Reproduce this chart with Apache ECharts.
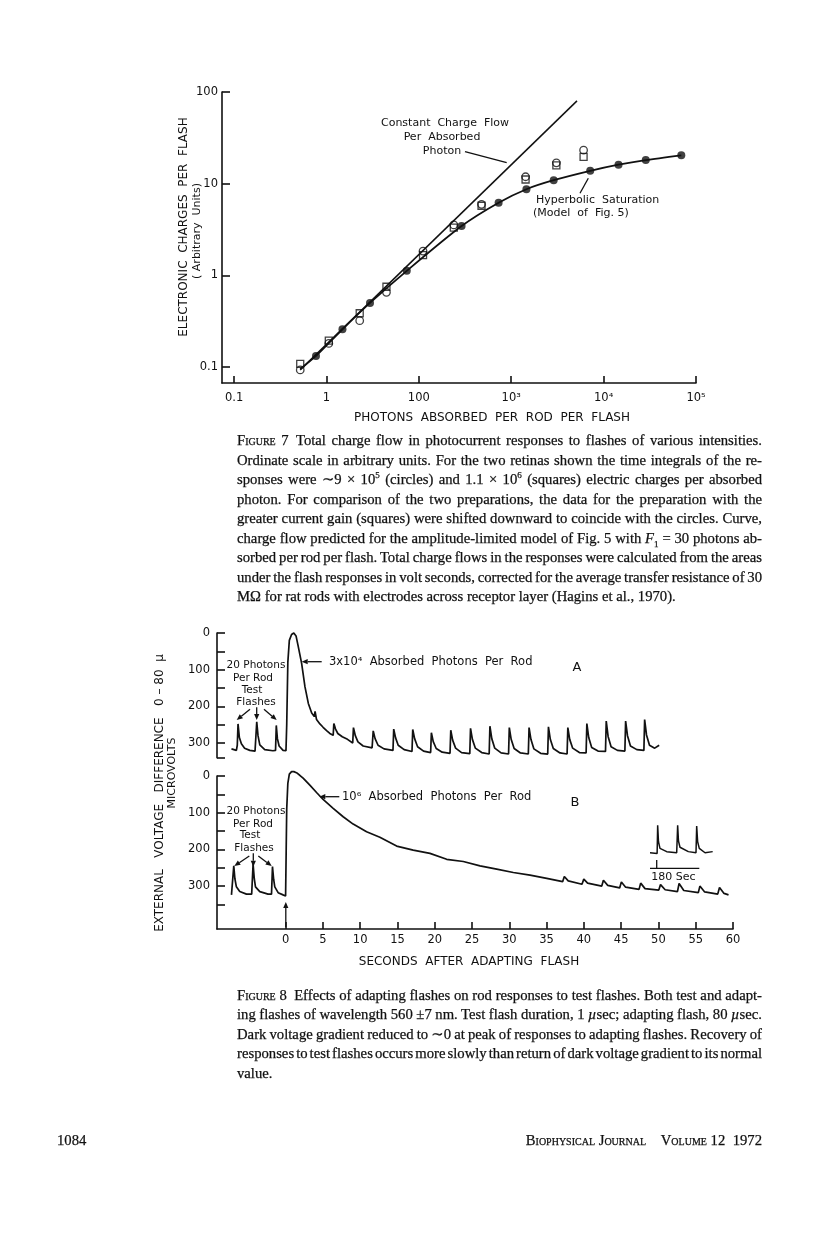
<!DOCTYPE html>
<html><head><meta charset="utf-8">
<script src="https://cdn.jsdelivr.net/npm/echarts@6/dist/echarts.min.js"></script>
<style>
html,body{margin:0;padding:0;background:#fff;}
#page{position:relative;width:816px;height:1247px;overflow:hidden;background:#fff;}
#chart{position:absolute;left:0;top:0;width:816px;height:1247px;}
.ln{position:absolute;left:237px;font-family:'Liberation Serif','DejaVu Serif',serif;font-size:14.7px;line-height:19.5px;color:#111;white-space:nowrap;-webkit-text-stroke:0.25px #111;}
.sc{font-variant:small-caps;}
sup,sub{font-size:9px;line-height:0;}
.foot{position:absolute;font-family:'Liberation Serif','DejaVu Serif',serif;font-size:14.7px;color:#111;white-space:nowrap;-webkit-text-stroke:0.25px #111;}
</style></head><body><div id="page"><div id="chart"></div>

<div class="ln j" style="top:431px"><span class="sc">Figure 7</span>&ensp;Total charge flow in photocurrent responses to flashes of various intensities.</div>
<div class="ln j" style="top:450.5px">Ordinate scale in arbitrary units. For the two retinas shown the time integrals of the re-</div>
<div class="ln j" style="top:470px">sponses were ∼9 × 10<sup>5</sup> (circles) and 1.1 × 10<sup>6</sup> (squares) electric charges per absorbed</div>
<div class="ln j" style="top:489.5px">photon. For comparison of the two preparations, the data for the preparation with the</div>
<div class="ln j" style="top:509px">greater current gain (squares) were shifted downward to coincide with the circles. Curve,</div>
<div class="ln j" style="top:528.5px">charge flow predicted for the amplitude-limited model of Fig. 5 with <i>F</i><sub>1</sub> = 30 photons ab-</div>
<div class="ln j" style="top:548px">sorbed per rod per flash. Total charge flows in the responses were calculated from the areas</div>
<div class="ln j" style="top:567.5px">under the flash responses in volt seconds, corrected for the average transfer resistance of 30</div>
<div class="ln" style="top:587px">MΩ for rat rods with electrodes across receptor layer (Hagins et al., 1970).</div>

<div class="ln j" style="top:985.5px"><span class="sc">Figure 8</span>&ensp;Effects of adapting flashes on rod responses to test flashes. Both test and adapt-</div>
<div class="ln j" style="top:1005px">ing flashes of wavelength 560 ±7 nm. Test flash duration, 1 <i>µ</i>sec; adapting flash, 80 <i>µ</i>sec.</div>
<div class="ln j" style="top:1024.5px">Dark voltage gradient reduced to ∼0 at peak of responses to adapting flashes. Recovery of</div>
<div class="ln j" style="top:1044px">responses to test flashes occurs more slowly than return of dark voltage gradient to its normal</div>
<div class="ln" style="top:1063.5px">value.</div>

<div class="foot" style="left:57px;top:1132px">1084</div>
<div class="foot" style="right:54px;top:1132px"><span class="sc">Biophysical Journal</span>&emsp;<span class="sc">Volume</span> 12&ensp;1972</div>
</div>
<script>
// ---------------- Figure 7 data ----------------
const fig7XTickValues = [0.1, 1, 10, 100, 1000, 10000];
const fig7XTickLabels = ['0.1', '1', '100', '10³', '10⁴', '10⁵'];
const fig7YTickValues = [0.1, 1, 10, 100];
const fig7YTickLabels = ['0.1', '1', '10', '100'];
const fig7Filled = [[0.77,0.132],[1.49,0.258],[2.96,0.50],[7.4,1.12],[29,3.45],[73,6.2],[146,8.7],[288,10.9],[716,13.8],[1450,16.1],[2860,18.1],[6930,20.4]];
const fig7Squares = [[0.52,0.108],[1.06,0.194],[2.29,0.386],[4.46,0.751],[11.1,1.66],[23.9,3.32],[47.7,5.74],[143,11.1],[308,15.8],[607,19.6]];
const fig7Circles = [[0.52,0.093],[1.06,0.181],[2.29,0.32],[4.46,0.653],[11.1,1.84],[23.9,3.55],[47.7,5.95],[143,11.9],[308,16.9],[607,23.2]];
const fig7CurveStart = [[0.52,0.095]];
const fig7ConstantLine = [[0.52,0.093],[515,80]];

// ---------------- Figure 8 data ----------------
const fig8XTicks = [0,5,10,15,20,25,30,35,40,45,50,55,60];
const fig8AYTicks = [0,50,100,150,200,250,300,340];
const fig8BYTicks = [0,50,100,150,200,250,300,350];
const fig8YLabels = [0,100,200,300];
const traceA = [
[-7.26,316],[-6.6,320],[-6.48,306],[-6.38,248],[-6.2,285],[-5.93,302],[-5.5,314],[-4.8,320],[-4.1,322],[-3.95,318],[-3.87,242],[-3.7,280],[-3.46,305],[-2.8,318],[-1.7,321],[-1.35,320],[-1.25,252],[-1.1,288],[-0.87,308],[-0.34,320],[0.05,321],
[0.15,250],[0.3,80],[0.5,20],[0.8,4],[1.1,0],[1.4,8],[1.7,37],[2.15,83],[2.6,147],[3.05,192],[3.5,218],[3.85,228],[3.95,214],[4.15,236],[4.6,248],[5.03,257],[5.5,266],[5.93,274],[6.38,279],[6.47,247],[6.7,262],[7.0,274],[7.6,283],[8.3,290],[9.0,300],[9.1,258],[9.35,280],[9.7,297],[10.4,308],[11.6,313],[11.75,267],[12.0,288],[12.4,306],[13.2,316],[14.4,320],[14.5,262],[14.75,286],[15.1,306],[15.9,318],[16.95,323],[17.05,263],[17.3,288],[17.7,310],[18.5,322],[19.45,326],[19.55,272],[19.8,296],[20.2,315],[21.0,325],[22.05,328],[22.15,265],[22.4,292],[22.8,314],[23.6,326],[24.7,329],[24.8,260],[25.05,290],[25.45,314],[26.3,326],[27.3,330],[27.4,254],[27.65,288],[28.05,314],[28.9,327],[29.9,330],[30.0,258],[30.25,290],[30.65,315],[31.5,327],[32.55,330],[32.65,258],[32.9,290],[33.3,316],[34.2,328],[35.15,330],[35.25,256],[35.5,290],[35.9,315],[36.8,327],[37.75,330],[37.85,258],[38.1,290],[38.5,314],[39.4,326],[40.3,327],[40.4,247],[40.65,285],[41.05,312],[41.9,322],[42.9,323],[43.0,240],[43.25,282],[43.65,310],[44.5,320],[45.5,322],[45.6,240],[45.85,280],[46.25,308],[47.1,318],[48.05,320],[48.15,236],[48.4,278],[48.8,306],[49.5,314],[50.1,306]
];
const traceB = [
[-7.26,324],[-7.05,320],[-6.95,245],[-6.8,280],[-6.6,302],[-6.15,315],[-5.25,322],[-4.55,322],[-4.45,318],[-4.36,240],[-4.2,280],[-4.04,302],[-3.46,315],[-2.35,322],[-1.89,322],[-1.82,318],[-1.76,247],[-1.6,282],[-1.45,302],[-1.0,318],[-0.34,324],[0.0,327],
[0.08,200],[0.15,90],[0.3,20],[0.5,-5],[0.8,-12],[1.1,-12],[1.46,-9],[1.9,-2],[2.35,6],[3.25,25],[4.15,45],[5.03,64],[6.38,88],[7.72,111],[9.06,131],[10.86,152],[12.64,167],[14.89,191],[17.11,202],[19.36,211],[21.6,227],[23.83,233],[26.07,245],[28.31,254],[30.54,263],[32.78,270],[35.02,279],
[37.15,288],[37.38,274],[37.9,286],[39.75,295],[39.99,281],[40.5,292],[42.4,300],[42.62,284],[43.2,298],[44.8,305],[45.03,289],[45.6,303],[47.4,309],[47.62,292],[48.2,307],[50.05,311],[50.28,296],[50.9,310],[52.55,315],[52.77,293],[53.4,312],[55.35,318],[55.56,300],[56.2,316],[57.95,322],[58.19,304],[58.8,320],[59.4,324]
];
const insetTrace = [[0,320],[26,322],[28,245],[31,290],[36.5,308],[61,317],[97.5,320],[99.5,318],[101,245],[104,288],[109.5,305],[140,317],[168,320],[169.5,318],[170.5,247],[174,290],[180,308],[201,320],[229,317]];

// ---------------- drawing ----------------
const INK = '#111';
const FONT = 'DejaVu Sans';
const chart = echarts.init(document.getElementById('chart'), null, {renderer: 'canvas', width: 816, height: 1247});

function lbl(size){ return {color: INK, fontFamily: FONT, fontSize: size}; }
function T(x, y, s, o) {
  o = o || {};
  const al = o.align || 'center';
  return {type: 'text', x: x, y: y, rotation: o.rot || 0, z: 10,
    style: {text: s, fill: INK, font: (o.size || 11) + 'px "' + FONT + '"',
      align: al, verticalAlign: 'middle', textAlign: al, textVerticalAlign: 'middle'}};
}
function L(x1, y1, x2, y2, w) {
  return {type: 'line', z: 10, shape: {x1: x1, y1: y1, x2: x2, y2: y2}, style: {stroke: INK, lineWidth: w || 1.3}};
}
function A(x1, y1, x2, y2) {
  const ang = Math.atan2(y2 - y1, x2 - x1), len = 6, half = 2.6;
  const bx = x2 - len * Math.cos(ang), by = y2 - len * Math.sin(ang);
  const px = -Math.sin(ang) * half, py = Math.cos(ang) * half;
  return [L(x1, y1, bx, by, 1.3), {type: 'polygon', z: 10, shape: {points: [[x2, y2], [bx + px, by + py], [bx - px, by - py]]}, style: {fill: INK}}];
}
function logIdx(v){ return Math.round(Math.log10(v) + 1); }

const graphics = [].concat(
  // Figure 7 titles
  [T(184, 227, 'ELECTRONIC  CHARGES  PER  FLASH', {rot: Math.PI / 2, size: 12}),
   T(197.5, 231, '( Arbitrary  Units)', {rot: Math.PI / 2, size: 11}),
   T(492, 418, 'PHOTONS  ABSORBED  PER  ROD  PER  FLASH', {size: 12}),
   T(445, 123, 'Constant  Charge  Flow', {size: 11}),
   T(442, 137.5, 'Per  Absorbed', {size: 11}),
   T(442, 151, 'Photon', {size: 11}),
   T(536, 200, 'Hyperbolic  Saturation', {size: 11, align: 'left'}),
   T(533, 213, '(Model  of  Fig. 5)', {size: 11, align: 'left'}),
   L(465, 151.7, 506.7, 162.7), L(588.3, 178.3, 580, 193.3)],
  // Figure 8 titles
  [T(160, 793, 'EXTERNAL   VOLTAGE   DIFFERENCE   0 – 80  µ', {rot: Math.PI / 2, size: 12}),
   T(172.5, 773, 'MICROVOLTS', {rot: Math.PI / 2, size: 11}),
   T(469, 962, 'SECONDS  AFTER  ADAPTING  FLASH', {size: 12}),
   T(329, 662.5, '3x10⁴  Absorbed  Photons  Per  Rod', {size: 11.5, align: 'left'}),
   T(342, 797, '10⁶  Absorbed  Photons  Per  Rod', {size: 11.5, align: 'left'}),
   T(577, 668, 'A', {size: 13}), T(575, 803, 'B', {size: 13}),
   T(256, 665, '20 Photons', {size: 10.5}), T(253, 678.5, 'Per Rod', {size: 10.5}),
   T(252, 690.5, 'Test', {size: 10.5}), T(256, 702, 'Flashes', {size: 10.5}),
   T(256, 811.5, '20 Photons', {size: 10.5}), T(253, 824, 'Per Rod', {size: 10.5}),
   T(250, 835.5, 'Test', {size: 10.5}), T(254, 848, 'Flashes', {size: 10.5}),
   T(673.5, 877, '180 Sec', {size: 11}),
   L(650, 868.3, 699.3, 868.3), L(656.7, 860, 656.7, 868.3)],
  A(321.7, 661.7, 301.7, 661.7), A(339.3, 796.7, 319.3, 796.7),
  A(250, 709.3, 236.7, 720), A(256.7, 707.3, 256.7, 720), A(264, 709.3, 276.7, 720),
  A(249.3, 856, 234.3, 866), A(253.3, 853.3, 253.3, 866.7), A(258.3, 856, 271.7, 866),
  A(285.8, 927, 285.8, 902)
);

const AX = {color: INK, width: 1.6};
const option = {
  animation: false,
  backgroundColor: '#fff',
  grid: [
    {left: 222, top: 92, width: 474, height: 291},
    {left: 217, top: 633, width: 516, height: 124.7},
    {left: 217, top: 776, width: 516, height: 153},
    {left: 650, top: 808.7, width: 62.7, height: 47.7}
  ],
  xAxis: [
    {type: 'log', logBase: 10, gridIndex: 0, min: 0.074, max: 10000,
     axisLine: {show: true, lineStyle: AX},
     axisTick: {show: true, inside: true, length: 7, customValues: fig7XTickValues, lineStyle: AX},
     axisLabel: Object.assign(lbl(11.5), {margin: 9, customValues: fig7XTickValues, formatter: v => fig7XTickLabels[logIdx(v)]}),
     splitLine: {show: false}, minorTick: {show: false}},
    {type: 'value', gridIndex: 1, min: -9.2, max: 60, show: false},
    {type: 'value', gridIndex: 2, min: -9.2, max: 60,
     axisLine: {show: true, onZero: false, lineStyle: AX},
     axisTick: {show: true, inside: true, length: 7, customValues: fig8XTicks, lineStyle: AX},
     axisLabel: Object.assign(lbl(11.5), {margin: 5, customValues: fig8XTicks}),
     splitLine: {show: false}},
    {type: 'value', gridIndex: 3, min: 0, max: 229, show: false}
  ],
  yAxis: [
    {type: 'log', logBase: 10, gridIndex: 0, min: 0.0669, max: 100,
     axisLine: {show: true, lineStyle: AX},
     axisTick: {show: true, inside: true, length: 8, customValues: fig7YTickValues, lineStyle: AX},
     axisLabel: Object.assign(lbl(11.5), {margin: 4, customValues: fig7YTickValues, formatter: v => fig7YTickLabels[logIdx(v)]}),
     splitLine: {show: false}, minorTick: {show: false}},
    {type: 'value', gridIndex: 1, inverse: true, min: 0, max: 340,
     axisLine: {show: true, onZero: false, lineStyle: AX},
     axisTick: {show: true, inside: true, length: 8, customValues: fig8AYTicks, lineStyle: AX},
     axisLabel: Object.assign(lbl(11.5), {margin: 7, customValues: fig8YLabels}),
     splitLine: {show: false}},
    {type: 'value', gridIndex: 2, inverse: true, min: 0, max: 417,
     axisLine: {show: true, onZero: false, lineStyle: AX},
     axisTick: {show: true, inside: true, length: 8, customValues: fig8BYTicks, lineStyle: AX},
     axisLabel: Object.assign(lbl(11.5), {margin: 7, customValues: fig8YLabels}),
     splitLine: {show: false}},
    {type: 'value', gridIndex: 3, inverse: true, min: 200, max: 330, show: false}
  ],
  series: [
    {type: 'line', xAxisIndex: 0, yAxisIndex: 0, data: fig7ConstantLine, showSymbol: false, silent: true,
     lineStyle: {color: INK, width: 1.5}},
    {type: 'line', xAxisIndex: 0, yAxisIndex: 0, data: fig7CurveStart.concat(fig7Filled), showSymbol: false, smooth: 0.25, silent: true,
     lineStyle: {color: INK, width: 1.8}},
    {type: 'scatter', xAxisIndex: 0, yAxisIndex: 0, data: fig7Circles, symbol: 'circle', symbolSize: 7.5,
     itemStyle: {color: '#fff', borderColor: INK, borderWidth: 1.3}},
    {type: 'scatter', xAxisIndex: 0, yAxisIndex: 0, data: fig7Squares, symbol: 'rect', symbolSize: 7,
     itemStyle: {color: 'rgba(255,255,255,0)', borderColor: INK, borderWidth: 1.3}},
    {type: 'scatter', xAxisIndex: 0, yAxisIndex: 0, data: fig7Filled, symbol: 'circle', symbolSize: 8,
     itemStyle: {color: INK}},
    {type: 'line', xAxisIndex: 1, yAxisIndex: 1, data: traceA, showSymbol: false, clip: false,
     lineStyle: {color: INK, width: 1.7}},
    {type: 'line', xAxisIndex: 2, yAxisIndex: 2, data: traceB, showSymbol: false, clip: false,
     lineStyle: {color: INK, width: 1.7}},
    {type: 'line', xAxisIndex: 3, yAxisIndex: 3, data: insetTrace, showSymbol: false, clip: false,
     lineStyle: {color: INK, width: 1.5}}
  ],
  graphic: graphics
};
chart.setOption(option);

function justify() {
  document.querySelectorAll('.ln.j').forEach(el => {
    el.style.wordSpacing = '0px';
    const w = el.getBoundingClientRect().width;
    const n = (el.textContent.match(/ /g) || []).length;
    if (n > 0) el.style.wordSpacing = ((525 - w) / n) + 'px';
  });
}
justify();
if (document.fonts && document.fonts.ready) document.fonts.ready.then(justify);
</script>
</body></html>
